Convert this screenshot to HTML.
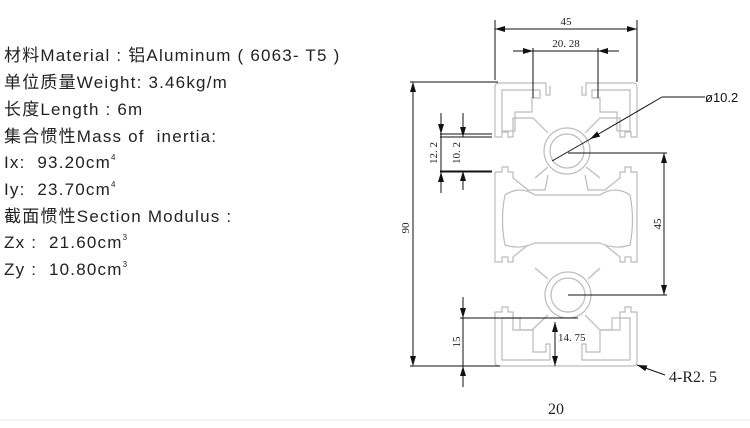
<!DOCTYPE html>
<html><head><meta charset="utf-8"><style>
body{margin:0;width:750px;height:428px;background:#fff;overflow:hidden;position:relative;font-family:"Liberation Sans","Noto Sans CJK SC",sans-serif;color:#222}
.t{position:absolute;left:4px;font-size:17px;line-height:20px;height:20px;white-space:nowrap;letter-spacing:1.2px}
.s{font-size:8px;position:relative;top:-8px;letter-spacing:0}
</style></head><body>
<div class="t" style="top:46px">材料Material : 铝Aluminum ( 6063- T5 )</div>
<div class="t" style="top:73px">单位质量Weight: 3.46kg/m</div>
<div class="t" style="top:100px">长度Length : 6m</div>
<div class="t" style="top:127px">集合惯性Mass of &nbsp;inertia:</div>
<div class="t" style="top:153px">Ix: &nbsp;93.20cm<span class="s">4</span></div>
<div class="t" style="top:180px">Iy: &nbsp;23.70cm<span class="s">4</span></div>
<div class="t" style="top:207px">截面惯性Section Modulus :</div>
<div class="t" style="top:233px">Zx : &nbsp;21.60cm<span class="s">3</span></div>
<div class="t" style="top:260px">Zy : &nbsp;10.80cm<span class="s">3</span></div>
<svg width="750" height="428" style="position:absolute;left:0;top:0" font-family="Liberation Serif,serif">
<defs><marker id="a" viewBox="0 0 10 6" refX="10" refY="3" markerWidth="10" markerHeight="6" orient="auto-start-reverse" markerUnits="userSpaceOnUse"><path d="M0,0L10,3L0,6z" fill="#111"/></marker></defs>
<g fill="none" stroke="#bbb" stroke-width="1.2">
<!-- top block -->
<path d="M499,83 H546 V95 H550 V86 M582,86 V95 H586 V83 H633 Q637,83 637,87 V137 H631 V132 H625 V137 H620 V118 H600 L585,133"/>
<path d="M548,133 L533,118 H513 V137 H508 V132 H502 V137 H495 V87 Q495,83 499,83"/>
<path d="M502,90 H540 V98 H532 V112 H515 V131 H502 Z"/>
<path d="M630,90 H592 V98 H600 V112 H617 V131 H630 Z"/>
<!-- middle -->
<path d="M495,172 H502 V167 H508 V172 H513 V178 L528,190 H545 L548,175"/>
<path d="M585,175 L588,190 H605 L620,178 V172 H625 V167 H631 V172 H637 V262 H631 V257 H625 V262 H620 V257 L605,245"/>
<path d="M495,172 V262 H502 V257 H508 V262 H513 V257 L528,245"/>
<path d="M505,195 Q520,185 535,195 H600 Q615,185 630,195 Q635,220 630,245 Q615,250 600,243 H535 Q520,250 505,245 Q500,220 505,195 Z"/>
<circle cx="567" cy="151" r="23"/><circle cx="567" cy="151" r="17"/>
<circle cx="568" cy="295" r="23"/><circle cx="568" cy="295" r="17"/>
<path d="M548,167 L535,178 M586,167 L600,178 M548,279 L535,268 M588,279 L600,268"/>
<!-- bottom block -->
<path d="M548,315 L532,330 H513 V312 H508 V307 H502 V312 H495 V362 Q495,366 499,366 H633 Q637,366 637,362 V312 H631 V307 H625 V312 H620 V330 H600 L585,315"/>
<path d="M502,318 H520 V330 H533 V352 H546 V344 H550 V360 H502 Z"/>
<path d="M630,318 H612 V330 H600 V352 H586 V344 H582 V360 H630 Z"/>
</g>
<g stroke="#111" stroke-width="1" fill="none">
<path d="M495,20 V80 M637,20 V82 M533,48 V98 M598,48 V98"/>
<path d="M495,29 H637" marker-start="url(#a)" marker-end="url(#a)"/>
<path d="M513,51 H533" marker-end="url(#a)"/><path d="M619,51 H598" marker-end="url(#a)"/><path d="M533,51 H598"/>
<path d="M410,82 H498 M410,366 H500"/>
<path d="M413,82 V366" marker-start="url(#a)" marker-end="url(#a)"/>
<path d="M440,134 H492 M440,172 H492"/>
<path d="M441,113 V134" marker-end="url(#a)"/><path d="M441,193 V172" marker-end="url(#a)"/><path d="M441,134 V172"/>
<path d="M463,113 V137" marker-end="url(#a)"/><path d="M463,190 V171" marker-end="url(#a)"/><path d="M440,137 H492 M440,171 H492"/>
<path d="M568,153 H667 M568,295 H667"/>
<path d="M664,153 V295" marker-start="url(#a)" marker-end="url(#a)"/>
<path d="M552,161 L592,138"/><path d="M662,97 L590,139" marker-end="url(#a)"/><path d="M662,97 H705"/>
<path d="M460,318 H578"/>
<path d="M463,297 V318" marker-end="url(#a)"/><path d="M463,387 V366" marker-end="url(#a)"/><path d="M463,318 V366"/>
<path d="M555,322 V366" marker-start="url(#a)" marker-end="url(#a)"/>
<path d="M665,375 L637,365" marker-end="url(#a)"/>
</g>
<path d="M0,420 H750" stroke="#e8e8e8"/>
<g fill="#222" font-size="11">
<text x="566" y="25" text-anchor="middle">45</text>
<text x="566" y="47" text-anchor="middle">20. 28</text>
<text transform="translate(409,228) rotate(-90)" text-anchor="middle">90</text>
<text transform="translate(437,153) rotate(-90)" text-anchor="middle">12. 2</text>
<text transform="translate(460,153) rotate(-90)" text-anchor="middle">10. 2</text>
<text transform="translate(661,224) rotate(-90)" text-anchor="middle">45</text>
<text transform="translate(460,342) rotate(-90)" text-anchor="middle">15</text>
<text x="558" y="341">14. 75</text>
<text x="669" y="382" font-size="16">4-R2. 5</text>
<text x="556" y="414" font-size="16" text-anchor="middle">20</text>
</g>
<text x="705" y="102" font-family="Liberation Sans,sans-serif" font-size="13" fill="#111">ø10.2</text>
</svg>
</body></html>
